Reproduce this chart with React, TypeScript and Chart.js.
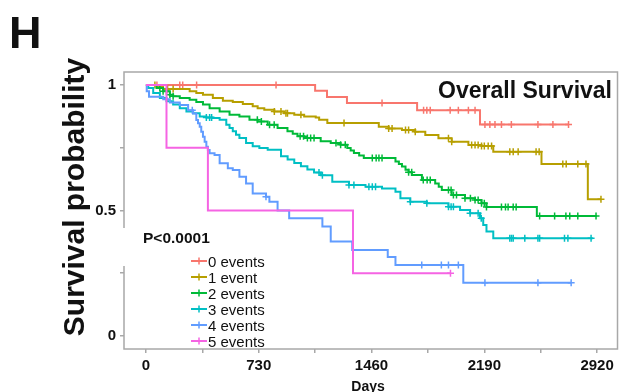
import React, { useEffect, useRef } from 'react';
import { Chart, registerables } from 'chart.js';

Chart.register(...registerables);

const FONT = '"Liberation Sans", Arial, Helvetica, sans-serif';

const panelLabel = 'H';
const plotTitle = 'Overall Survival';
const pValueText = 'P<0.0001';
const xAxisTitle = 'Days';
const yAxisTitle = 'Survival probability';

const groupLabels = ['0 events', '1 event', '2 events', '3 events', '4 events', '5 events'];
const groupColors = ['#F8766D', '#B79F00', '#00BA38', '#00BFC4', '#619CFF', '#F564E3'];

const xTickValues = [0, 365, 730, 1095, 1460, 1825, 2190, 2555, 2920];
const xTickLabels = ['0', '', '730', '', '1460', '', '2190', '', '2920'];
const yTickValues = [0, 0.25, 0.5, 0.75, 1];
const yTickLabels = ['0', '', '0.5', '', '1'];

// Kaplan-Meier steps: [day, survival after the step]; last entry = end of follow-up
const curve0: [number, number][] = [
  [0, 1], [1095, 0.977], [1172, 0.952], [1301, 0.928], [1755, 0.9], [2162, 0.843], [2735, 0.843],
];
const censor0 = [71, 219, 238, 328, 842, 1528, 1797, 1818, 1840, 1969, 2022, 2087, 2130, 2194, 2226, 2259, 2301, 2365, 2537, 2634, 2735];

const curve1: [number, number][] = [
  [0, 1], [69, 0.995], [111, 0.984], [283, 0.975], [326, 0.968], [369, 0.961], [433, 0.948], [498, 0.937],
  [562, 0.932], [627, 0.924], [691, 0.915], [723, 0.908], [766, 0.902], [831, 0.895], [895, 0.888],
  [960, 0.882], [1024, 0.875], [1099, 0.871], [1121, 0.862], [1174, 0.849], [1507, 0.834], [1571, 0.827],
  [1657, 0.821], [1743, 0.814], [1808, 0.801], [1893, 0.788], [1979, 0.774], [2087, 0.761], [2172, 0.757],
  [2248, 0.734], [2560, 0.685], [2860, 0.545], [2945, 0.545],
];
const censor1 = [58, 140, 176, 831, 874, 906, 916, 1003, 1282, 1571, 1593, 1680, 1700, 1743, 1958, 1979, 2108, 2130, 2150, 2172, 2190, 2215, 2237, 2355, 2377, 2409, 2525, 2545, 2698, 2720, 2795, 2848, 2945];

const curve2: [number, number][] = [
  [0, 1], [69, 0.988], [111, 0.975], [155, 0.961], [176, 0.955], [219, 0.948], [283, 0.941], [326, 0.932],
  [369, 0.922], [412, 0.908], [477, 0.895], [541, 0.882], [605, 0.875], [670, 0.862], [723, 0.855],
  [788, 0.842], [852, 0.829], [916, 0.816], [950, 0.806], [981, 0.796], [1024, 0.789], [1131, 0.776],
  [1196, 0.769], [1260, 0.762], [1303, 0.749], [1325, 0.739], [1346, 0.729], [1380, 0.719], [1410, 0.709],
  [1615, 0.695], [1637, 0.685], [1657, 0.675], [1680, 0.662], [1700, 0.652], [1721, 0.641], [1786, 0.622],
  [1872, 0.608], [1895, 0.595], [1915, 0.582], [1979, 0.562], [2065, 0.549], [2130, 0.542], [2172, 0.529],
  [2204, 0.514], [2530, 0.478], [2917, 0.478],
];
const censor2 = [90, 111, 133, 155, 176, 721, 747, 800, 830, 998, 1020, 1045, 1066, 1088, 1230, 1260, 1290, 1465, 1490, 1508, 1528, 1700, 1720, 1795, 1820, 1840, 1958, 1975, 1990, 2010, 2065, 2100, 2130, 2150, 2172, 2190, 2204, 2301, 2327, 2344, 2377, 2396, 2548, 2645, 2718, 2743, 2795, 2913];

const curve3: [number, number][] = [
  [0, 1], [15, 0.988], [47, 0.968], [90, 0.948], [133, 0.935], [176, 0.922], [219, 0.908], [262, 0.895],
  [305, 0.888], [348, 0.875], [391, 0.871], [433, 0.869], [477, 0.862], [520, 0.842], [541, 0.829],
  [562, 0.816], [583, 0.802], [605, 0.789], [648, 0.769], [691, 0.756], [734, 0.749], [788, 0.742],
  [874, 0.716], [917, 0.703], [960, 0.689], [1003, 0.676], [1045, 0.663], [1088, 0.651], [1132, 0.64],
  [1206, 0.615], [1314, 0.602], [1421, 0.595], [1528, 0.588], [1615, 0.575], [1647, 0.549], [1711, 0.535],
  [1818, 0.529], [1958, 0.515], [2033, 0.502], [2098, 0.489], [2162, 0.469], [2183, 0.442], [2204, 0.416],
  [2248, 0.389], [2892, 0.389],
];
const censor3 = [391, 412, 425, 1120, 1142, 1314, 1346, 1443, 1465, 1486, 1711, 1818, 1958, 1975, 1990, 2098, 2150, 2170, 2355, 2366, 2377, 2452, 2537, 2548, 2709, 2731, 2881];

const curve4: [number, number][] = [
  [0, 1], [5, 0.975], [20, 0.953], [112, 0.943], [155, 0.93], [219, 0.92], [273, 0.9], [305, 0.887],
  [326, 0.861], [337, 0.848], [348, 0.834], [358, 0.814], [369, 0.794], [380, 0.774], [391, 0.754],
  [401, 0.741], [412, 0.728], [444, 0.721], [477, 0.688], [530, 0.668], [562, 0.661], [605, 0.635],
  [648, 0.608], [691, 0.568], [777, 0.555], [799, 0.535], [852, 0.5], [927, 0.469], [1142, 0.436],
  [1196, 0.376], [1335, 0.343], [1565, 0.315], [1615, 0.283], [2054, 0.212], [2752, 0.212],
];
const censor4 = [300, 777, 1785, 1912, 1958, 2022, 2194, 2537, 2752];

const curve5: [number, number][] = [
  [0, 1], [133, 0.75], [401, 0.5], [1340, 0.25], [1971, 0.25],
];
const censor5 = [1971];

const curves = [curve0, curve1, curve2, curve3, curve4, curve5];
const censors = [censor0, censor1, censor2, censor3, censor4, censor5];

function survivalAt(curve: [number, number][], day: number): number {
  let s = 1;
  for (const [t, v] of curve) {
    if (t <= day) s = v;
  }
  return s;
}

const AXIS_GRAY = '#a8a8a8';
const TEXT = '#111111';

const decorPlugin = {
  id: 'decor',
  afterDraw(chart: any) {
    const ctx = chart.ctx as CanvasRenderingContext2D;
    const a = chart.chartArea;
    ctx.save();
    // panel border
    ctx.strokeStyle = AXIS_GRAY;
    ctx.lineWidth = 1.5;
    ctx.strokeRect(a.left, a.top, a.right - a.left, a.bottom - a.top);

    // white box behind p-value annotation
    ctx.fillStyle = '#ffffff';
    ctx.fillRect(118, 228, 98, 38);

    ctx.fillStyle = TEXT;
    // panel label
    ctx.font = `bold 45px ${FONT}`;
    ctx.textAlign = 'left';
    ctx.textBaseline = 'alphabetic';
    ctx.fillText(panelLabel, 9, 48);

    // plot title
    ctx.font = `bold 23px ${FONT}`;
    ctx.textAlign = 'right';
    ctx.fillText(plotTitle, 612, 98);

    // y title
    ctx.save();
    ctx.translate(84, 197);
    ctx.rotate(-Math.PI / 2);
    ctx.font = `bold 30px ${FONT}`;
    ctx.textAlign = 'center';
    ctx.fillText(yAxisTitle, 0, 0);
    ctx.restore();

    // x title
    ctx.font = `bold 14px ${FONT}`;
    ctx.textAlign = 'center';
    ctx.fillText(xAxisTitle, 368, 391);

    // p-value
    ctx.font = `bold 15.5px ${FONT}`;
    ctx.textAlign = 'left';
    ctx.fillText(pValueText, 143, 243);

    // legend
    ctx.font = `15px ${FONT}`;
    groupLabels.forEach((lab, i) => {
      const y = 261 + i * 16;
      ctx.strokeStyle = groupColors[i];
      ctx.lineWidth = 2;
      ctx.beginPath();
      ctx.moveTo(191, y);
      ctx.lineTo(207, y);
      ctx.stroke();
      ctx.lineWidth = 1.5;
      ctx.beginPath();
      ctx.moveTo(199, y - 3.5);
      ctx.lineTo(199, y + 3.5);
      ctx.stroke();
      ctx.fillStyle = TEXT;
      ctx.fillText(lab, 208, y + 5.5);
    });
    ctx.restore();
  },
};

export default function App() {
  const ref = useRef<HTMLCanvasElement | null>(null);

  useEffect(() => {
    if (!ref.current) return;
    const datasets: any[] = [];
    curves.forEach((curve, i) => {
      datasets.push({
        label: groupLabels[i],
        data: curve.map(([x, y]) => ({ x, y })),
        stepped: 'before',
        borderColor: groupColors[i],
        borderWidth: 2,
        pointRadius: 0,
        fill: false,
        order: 100 - i * 2,
      });
      datasets.push({
        label: groupLabels[i] + ' censored',
        data: censors[i].map((d) => ({ x: d, y: survivalAt(curve, d) })),
        showLine: false,
        pointStyle: 'cross',
        pointRadius: 3.5,
        borderColor: groupColors[i],
        backgroundColor: groupColors[i],
        pointBorderWidth: 1.5,
        order: 99 - i * 2,
      });
    });

    const tickFont = { family: FONT, size: 15, weight: 'bold' as const };

    const chart = new Chart(ref.current, {
      type: 'line',
      data: { datasets },
      options: {
        responsive: false,
        animation: false,
        devicePixelRatio: 1,
        layout: { padding: { top: 72, right: 3, left: 0, bottom: 0 } },
        plugins: {
          legend: { display: false },
          tooltip: { enabled: false },
          title: { display: false },
        },
        scales: {
          x: {
            type: 'linear',
            min: -142,
            max: 3052,
            afterBuildTicks: (s: any) => {
              s.ticks = xTickValues.map((v) => ({ value: v }));
            },
            afterFit: (s: any) => {
              s.height = 43;
            },
            ticks: {
              autoSkip: false,
              maxRotation: 0,
              padding: 4,
              color: TEXT,
              font: tickFont,
              callback: (v: any) => xTickLabels[xTickValues.indexOf(Number(v))] ?? '',
            },
            grid: { drawOnChartArea: false, drawTicks: true, tickLength: 4, color: AXIS_GRAY, lineWidth: 1.5 },
            border: { display: false },
          },
          y: {
            type: 'linear',
            min: -0.052,
            max: 1.052,
            afterBuildTicks: (s: any) => {
              s.ticks = yTickValues.map((v) => ({ value: v }));
            },
            afterFit: (s: any) => {
              s.width = 124;
            },
            ticks: {
              autoSkip: false,
              padding: 4,
              color: TEXT,
              font: tickFont,
              callback: (v: any) => yTickLabels[yTickValues.indexOf(Number(v))] ?? '',
            },
            grid: { drawOnChartArea: false, drawTicks: true, tickLength: 4, color: AXIS_GRAY, lineWidth: 1.5 },
            border: { display: false },
          },
        },
      },
      plugins: [decorPlugin],
    });
    return () => chart.destroy();
  }, []);

  return (
    <div style={{ position: 'absolute', left: 0, top: 0, width: 623, height: 392, background: '#ffffff' }}>
      <canvas ref={ref} width={623} height={392} style={{ width: 623, height: 392, display: 'block' }} />
    </div>
  );
}
